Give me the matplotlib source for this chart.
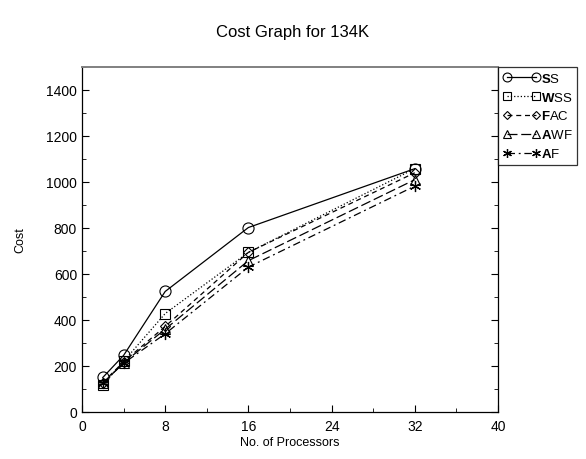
import matplotlib.pyplot as plt
from matplotlib.ticker import MultipleLocator

plt.rcParams['font.family'] = ['Liberation Sans', 'DejaVu Sans']
plt.rcParams['mathtext.fontset'] = 'custom'
plt.rcParams['mathtext.rm'] = 'Liberation Sans'
plt.rcParams['mathtext.bf'] = 'Liberation Sans:bold'

# processors and cost per scheme
procs = [2, 4, 8, 16, 32]
ss = [150, 246, 524, 802, 1058]
wss = [118, 220, 428, 694, 1058]
fac = [128, 218, 372, 694, 1040]
awf = [124, 214, 360, 658, 1010]
af = [126, 212, 340, 630, 982]

labels = [r"$\mathbf{S}$S", r"$\mathbf{W}$SS", r"$\mathbf{F}$AC",
          r"$\mathbf{A}$WF", r"$\mathbf{A}$F"]
markers = ['o', 's', 'D', '^', '*']
sizes = [8, 6.5, 5.5, 6.5, 8]
styles = ['-', ':', (0, (4, 3)), (0, (8, 3)), (0, (6, 3, 1.5, 3))]

fig = plt.figure(figsize=(5.86, 4.6), dpi=100)
ax = fig.add_axes([0.1399, 0.1022, 0.7099, 0.7500])

for ys, lab, m, ms, ls in zip([ss, wss, fac, awf, af], labels, markers, sizes, styles):
    if m == '*':
        ax.plot(procs, ys, color='black', linestyle=ls, linewidth=0.9,
                marker=(6, 2, 0), markersize=ms, markeredgewidth=0.9, label=lab)
    else:
        ax.plot(procs, ys, color='black', linestyle=ls, linewidth=0.9,
                marker=m, markersize=ms, markerfacecolor='none',
                markeredgecolor='black', markeredgewidth=0.8, label=lab)

ax.set_xlim(0, 40)
ax.set_ylim(0, 1500)
ax.xaxis.set_major_locator(MultipleLocator(8))
ax.xaxis.set_minor_locator(MultipleLocator(4))
ax.yaxis.set_major_locator(MultipleLocator(200))
ax.yaxis.set_minor_locator(MultipleLocator(100))
ax.tick_params(which='both', direction='in', top=False, right=True, labelsize=10)
ax.tick_params(which='major', length=5)
ax.tick_params(which='minor', length=3)
ax.tick_params(axis='x', pad=5)
for s in ax.spines.values():
    s.set_linewidth(0.9)
ax.spines['top'].set_color('#808080')
ax.spines['top'].set_linewidth(1.4)

ax.set_xlabel("No. of Processors", fontsize=9, labelpad=2)
ax.set_ylabel("Cost", fontsize=9, labelpad=14)
fig.suptitle("Cost Graph for 134K", fontsize=12, y=0.945)

leg = fig.legend(loc='upper left', bbox_to_anchor=(498 / 586, 1 - 68 / 460),
                 numpoints=2, handlelength=2.8, handletextpad=0.1,
                 labelspacing=0.45, borderpad=0.35, borderaxespad=0,
                 markerscale=0.8, fancybox=False, frameon=True, fontsize=9.5)
leg.get_frame().set_edgecolor('black')
leg.get_frame().set_linewidth(0.9)

fig.savefig("out.png", dpi=100)
